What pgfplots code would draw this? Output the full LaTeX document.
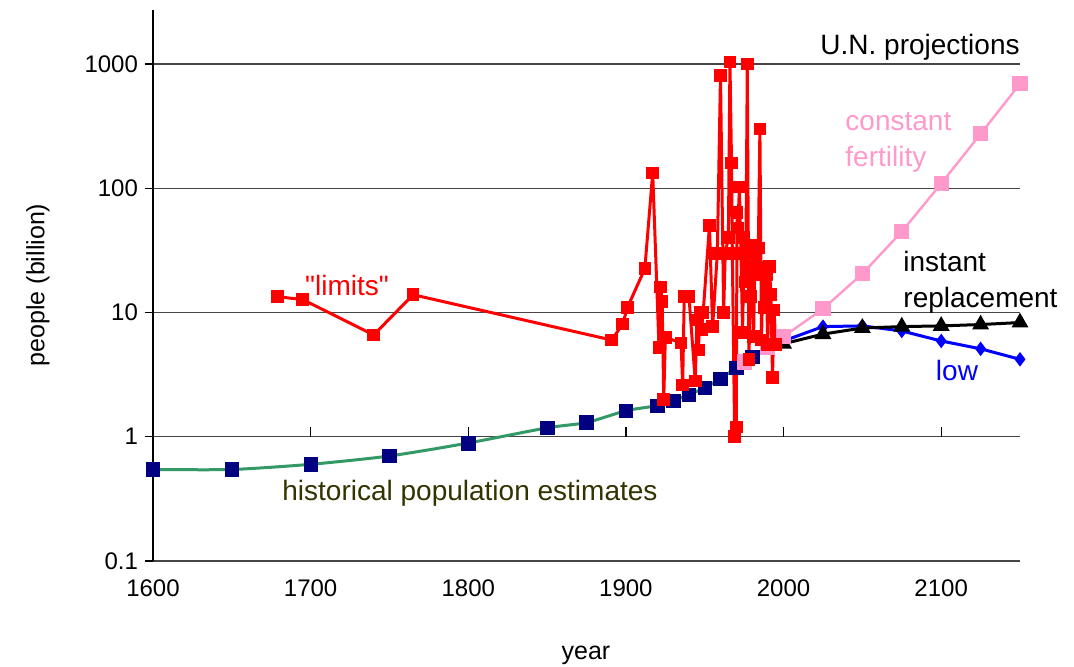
\documentclass[border=0pt]{standalone}
\usepackage{pgfplots}
\pgfplotsset{compat=1.18}
\usepackage{fontspec}
\setmainfont{Liberation Sans}
\newfontfamily\plainfont{Liberation Sans}
\definecolor{hnavy}{RGB}{0,0,128}
\definecolor{hgreen}{RGB}{51,153,102}
\definecolor{holive}{RGB}{51,51,0}
\definecolor{upink}{RGB}{255,153,204}
\definecolor{gridc}{RGB}{70,70,70}
\begin{document}
\begin{tikzpicture}
\begin{axis}[
  scale only axis, width=433.5pt, height=275.5pt,
  xmin=1600, xmax=2150, ymode=log, ymin=0.1, ymax=2720,
  axis lines=left, axis line style={-},
  x axis line style={draw=none},
  y axis line style={black, line width=0.6pt},
  xtick={1600,1700,1800,1900,2000,2100},
  xticklabels={1600,1700,1800,1900,2000,2100},
  ytick={0.1,1,10,100,1000},
  yticklabels={0.1,1,10,100,1000},
  yminorticks=false,
  major x tick style={draw=none},
  major y tick style={black, line width=0.6pt},
  tick align=outside, major tick length=4pt,
  ymajorgrids, major grid style={gridc, line width=0.7pt},
  tick label style={font=\fontsize{12}{14}\selectfont},
  xticklabel style={yshift=-2pt},
  label style={font=\fontsize{12.5}{15}\selectfont},
  xlabel={year}, ylabel={people (billion)},
  xlabel style={at={(rel axis cs:0.4994,-0.1706)}, anchor=center},
  ylabel style={at={(rel axis cs:-0.1326,0.5009)}, anchor=center},
  clip=false,
]
% tick marks on the x axis crossing at 1
\pgfplotsinvokeforeach{1700,1800,1900,2000,2100}{
  \draw[black, line width=0.6pt] (axis cs:#1,1) -- ([yshift=5pt]axis cs:#1,1);
}
% historical population estimates
\addplot[hgreen, line width=1.5pt, smooth, tension=0.4, mark=square*,
  mark options={hnavy, fill=hnavy, line width=0.3pt}, mark size=3.4pt]
  coordinates {
  (1600,0.545) (1650,0.545) (1700,0.60) (1750,0.70) (1800,0.89)
  (1850,1.18) (1875,1.30) (1900,1.62) (1920,1.78) (1930,1.95)
  (1940,2.18) (1950,2.48) (1960,2.93) (1970,3.6) (1980,4.4) (1990,5.3)
  };
% low
\addplot[blue, line width=1.5pt, mark=diamond*, mark size=2.4pt,
  mark options={blue, fill=blue}]
  coordinates {
  (2000,5.9) (2025,7.7) (2050,7.8) (2075,7.1) (2100,5.9) (2125,5.1) (2150,4.2)
  };
% instant replacement
\addplot[black, line width=1.5pt, mark=triangle*, mark size=3.4pt,
  mark options={black, fill=black}]
  coordinates {
  (2000,5.6) (2025,6.7) (2050,7.5) (2075,7.7) (2100,7.8) (2125,8.0) (2150,8.3)
  };
% constant fertility
\addplot[upink, line width=1.2pt, mark=square*, mark size=3.2pt,
  mark options={upink, fill=upink}]
  coordinates {
  (1975,4.0) (1990,5.2) (2000,6.4) (2025,10.7) (2050,20.5) (2075,44.7)
  (2100,109) (2125,274) (2150,692)
  };
% "limits"
\addplot[red, line width=1.5pt, mark=square*, mark size=2.4pt,
  mark options={red, fill=red}]
  coordinates {
  (1679,13.4) (1695,12.7) (1740,6.6) (1765,13.9) (1891,6.0) (1898,8.1)
  (1901,11.0) (1912,22.5) (1917,133) (1921,5.2) (1922,16) (1923,12.2)
  (1924,2.0) (1925,6.3) (1935,5.7) (1936,2.6) (1937,13.4) (1940,13.4)
  (1944,2.8) (1945,8.7) (1946,5.0) (1947,10) (1948,7.3) (1949,10)
  (1953,50) (1955,7.7) (1958,30) (1960,810) (1962,10) (1963,30)
  (1965,40) (1966,1040) (1967,160) (1967.5,30) (1969,1.0) (1970,1.2)
  (1970.5,64) (1971,48) (1972,102) (1973,30) (1974,6.9) (1975,40)
  (1976,17.6) (1977,1000) (1978,4.2) (1979,13.4) (1980,30) (1981,6.4)
  (1982,35) (1983,20) (1984,33) (1985,300) (1986,6) (1987,23)
  (1988,11) (1989,20) (1990,5.5) (1991,23.4) (1992,13.9) (1993,3.0)
  (1994,10.5) (1995,5.5)
  };
% annotations
\node[font=\fontsize{14}{18}\selectfont, text=black, anchor=center]
  at (rel axis cs:0.8847,0.9328) {U.N. projections};
\node[font=\fontsize{14}{18}\selectfont, text=upink, anchor=west, align=left, inner sep=0pt]
  at (rel axis cs:0.7982,0.7604) {constant\\fertility};
\node[font=\fontsize{14}{18}\selectfont, text=black, anchor=west, align=left, inner sep=0pt]
  at (rel axis cs:0.8651,0.5064) {instant\\replacement};
\node[font=\fontsize{14}{18}\selectfont, text=blue, anchor=center]
  at (rel axis cs:0.9273,0.3466) {low};
\node[font=\plainfont\fontsize{14}{18}\selectfont, text=red, anchor=center]
  at (rel axis cs:0.2238,0.5009) {"limits"};
\node[font=\fontsize{14}{18}\selectfont, text=holive, anchor=center]
  at (rel axis cs:0.3656,0.1234) {historical population estimates};
\coordinate (bbl) at (rel axis cs:-0.17647,-0.19238);
\coordinate (btr) at (rel axis cs:1.06228,1.01815);
\end{axis}
\pgfresetboundingbox
\useasboundingbox (bbl) rectangle (btr);
\end{tikzpicture}
\end{document}
